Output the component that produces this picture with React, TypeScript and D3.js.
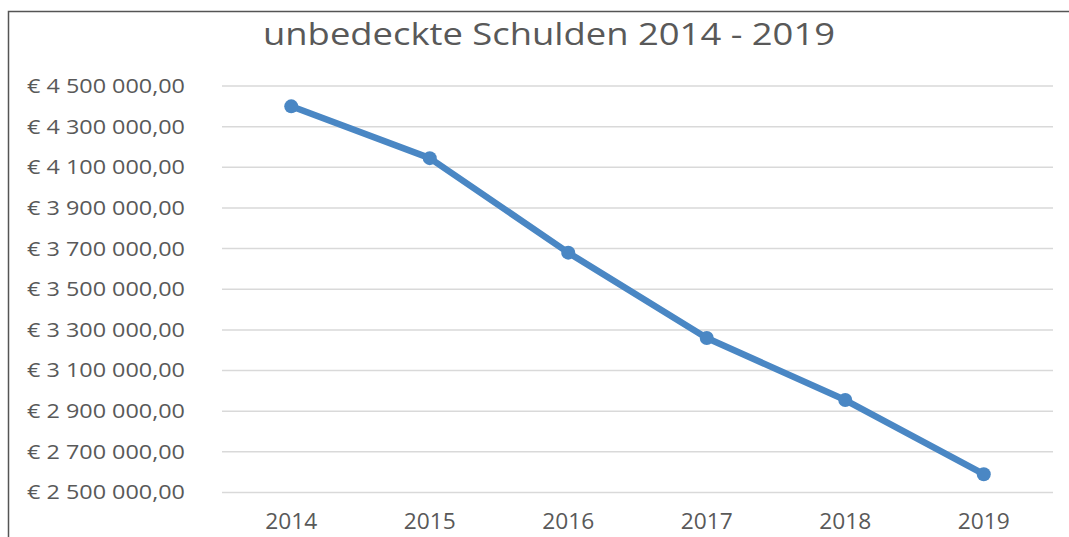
import React, { useRef, useEffect } from 'react';
import * as d3 from 'd3';

const years = ['2014', '2015', '2016', '2017', '2018', '2019'];
const schulden = [4400000, 4145000, 3680000, 3260000, 2955000, 2590000];
const yTicks = [2500000, 2700000, 2900000, 3100000, 3300000, 3500000, 3700000, 3900000, 4100000, 4300000, 4500000];
const title = 'unbedeckte Schulden 2014 - 2019';

const W = 1069;
const H = 537;
const margin = { top: 86, right: 16, bottom: 44, left: 222 };

const fmtEuro = (v: number) => {
  const parts = Math.round(v).toString().replace(/\B(?=(\d{3})+(?!\d))/g, ' ');
  return '€ ' + parts + ',00';
};

const App = () => {
  const ref = useRef<SVGSVGElement>(null);

  useEffect(() => {
    const root = d3.select(ref.current);
    root.selectAll('*').remove();

    const width = W - margin.left - margin.right;
    const height = H - margin.top - margin.bottom - 0.5;

    // frame (only left + top visible)
    root.append('path')
      .attr('d', `M8.5,${H} L8.5,11.5 L${W},11.5`)
      .attr('fill', 'none')
      .attr('stroke', '#555')
      .attr('stroke-width', 1.5);

    root.append('text')
      .attr('x', 263)
      .attr('y', 45)
      .attr('font-family', 'Open Sans, sans-serif')
      .attr('font-size', 31)
      .attr('fill', '#595959')
      .attr('textLength', 572)
      .attr('lengthAdjust', 'spacingAndGlyphs')
      .text(title);

    const g = root.append('g').attr('transform', `translate(${margin.left},${margin.top})`);

    const x = d3.scaleBand().domain(years).range([0, width]);
    const y = d3.scaleLinear().domain([2500000, 4500000]).range([height, 0]);

    g.selectAll('.grid')
      .data(yTicks)
      .enter()
      .append('line')
      .attr('class', 'grid')
      .attr('x1', 0)
      .attr('x2', width)
      .attr('y1', d => y(d))
      .attr('y2', d => y(d))
      .attr('stroke', '#d9d9d9')
      .attr('stroke-width', 1.5);

    const yAxis = g.append('g')
      .call(d3.axisLeft(y).tickValues(yTicks).tickFormat(d => fmtEuro(Number(d))).tickSize(0).tickPadding(37));
    yAxis.select('.domain').remove();
    yAxis.selectAll('.tick text')
      .attr('font-family', 'Open Sans, sans-serif')
      .attr('font-size', 20)
      .attr('fill', '#595959')
      .attr('textLength', 158)
      .attr('lengthAdjust', 'spacingAndGlyphs');

    const xAxis = g.append('g')
      .attr('transform', `translate(0,${height})`)
      .call(d3.axisBottom(x).tickSize(0).tickPadding(22));
    xAxis.select('.domain').remove();
    xAxis.selectAll('.tick text')
      .attr('font-family', 'Open Sans, sans-serif')
      .attr('font-size', 21)
      .attr('fill', '#595959')
      .attr('textLength', 52)
      .attr('lengthAdjust', 'spacingAndGlyphs');

    const cx = (d: string) => (x(d) ?? 0) + x.bandwidth() / 2;

    const line = d3.line<number>()
      .x((d, i) => cx(years[i]))
      .y(d => y(d));

    g.append('path')
      .datum(schulden)
      .attr('d', line)
      .attr('fill', 'none')
      .attr('stroke', '#4a87c4')
      .attr('stroke-width', 6.5)
      .attr('stroke-linejoin', 'round');

    g.selectAll('.dot')
      .data(schulden)
      .enter()
      .append('circle')
      .attr('class', 'dot')
      .attr('cx', (d, i) => cx(years[i]))
      .attr('cy', d => y(d))
      .attr('r', 7)
      .attr('fill', '#4a87c4');
  }, []);

  return <svg ref={ref} width={W} height={H} style={{ position: 'absolute', left: 0, top: 0, background: '#fff' }}></svg>;
};

export default App;
